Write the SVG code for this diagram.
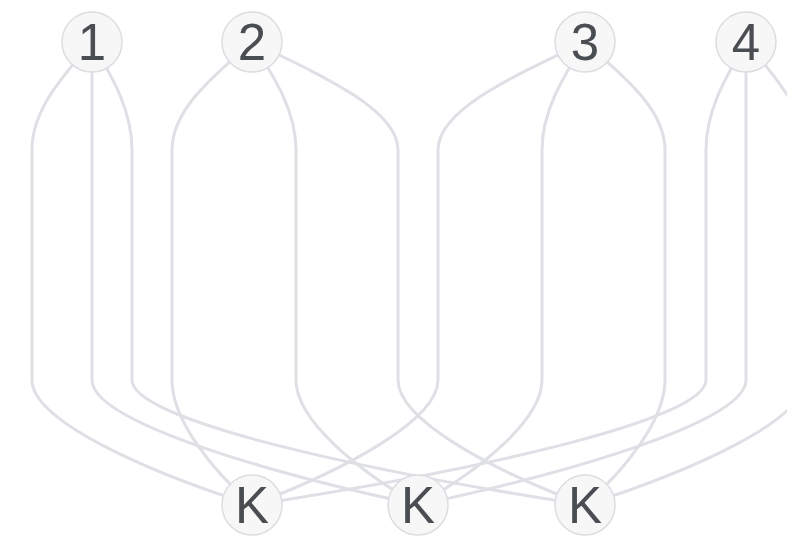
<svg xmlns="http://www.w3.org/2000/svg" width="787" height="540" viewBox="0 0 787 540">
<style>
.e{fill:none;stroke:#dfe0e5;stroke-width:3}
.n circle{fill:#f7f7f8;stroke:#dcdde2;stroke-width:1.5}
.n text{font-family:"Liberation Sans",Arial,sans-serif;font-size:51px;fill:#4a4d52;text-anchor:middle}
</style>
<rect width="787" height="540" fill="#ffffff"/>
<g id="connectors">
<path class="e" d="M92,42 C62,77 32,110 32,150 L32,380 C32,420 142,470 252,505"/>
<path class="e" d="M92,42 C92,77 92,110 92,150 L92,380 C92,420 255,470 418,505"/>
<path class="e" d="M92,42 C112,77 132,110 132,150 L132,380 C132,420 358.5,470 585,505"/>
<path class="e" d="M252,42 C212,77 172,110 172,150 L172,380 C172,420 212,470 252,505"/>
<path class="e" d="M252,42 C274,77 296,110 296,150 L296,380 C296,420 357,470 418,505"/>
<path class="e" d="M252,42 C325,77 398,110 398,150 L398,380 C398,420 491.5,470 585,505"/>
<path class="e" d="M585,42 C511.5,77 438,110 438,150 L438,380 C438,420 345,470 252,505"/>
<path class="e" d="M585,42 C563.5,77 542,110 542,150 L542,380 C542,420 480,470 418,505"/>
<path class="e" d="M585,42 C625,77 665,110 665,150 L665,380 C665,420 625,470 585,505"/>
<path class="e" d="M746,42 C726,77 706,110 706,150 L706,380 C706,420 479,470 252,505"/>
<path class="e" d="M746,42 C746,77 746,110 746,150 L746,380 C746,420 582,470 418,505"/>
<path class="e" d="M746,42 C775.5,77 805,110 805,150 L805,380 C805,420 695,470 585,505"/>
</g>
<g id="n1" class="n"><circle cx="92" cy="42" r="30"/><text x="92" y="60">1</text></g>
<g id="n2" class="n"><circle cx="252" cy="42" r="30"/><text x="252" y="60">2</text></g>
<g id="n3" class="n"><circle cx="585" cy="42" r="30"/><text x="585" y="60">3</text></g>
<g id="n4" class="n"><circle cx="746" cy="42" r="30"/><text x="746" y="60">4</text></g>
<g id="k1" class="n"><circle cx="252" cy="505" r="30"/><text x="252" y="523">K</text></g>
<g id="k2" class="n"><circle cx="418" cy="505" r="30"/><text x="418" y="523">K</text></g>
<g id="k3" class="n"><circle cx="585" cy="505" r="30"/><text x="585" y="523">K</text></g>
</svg>
